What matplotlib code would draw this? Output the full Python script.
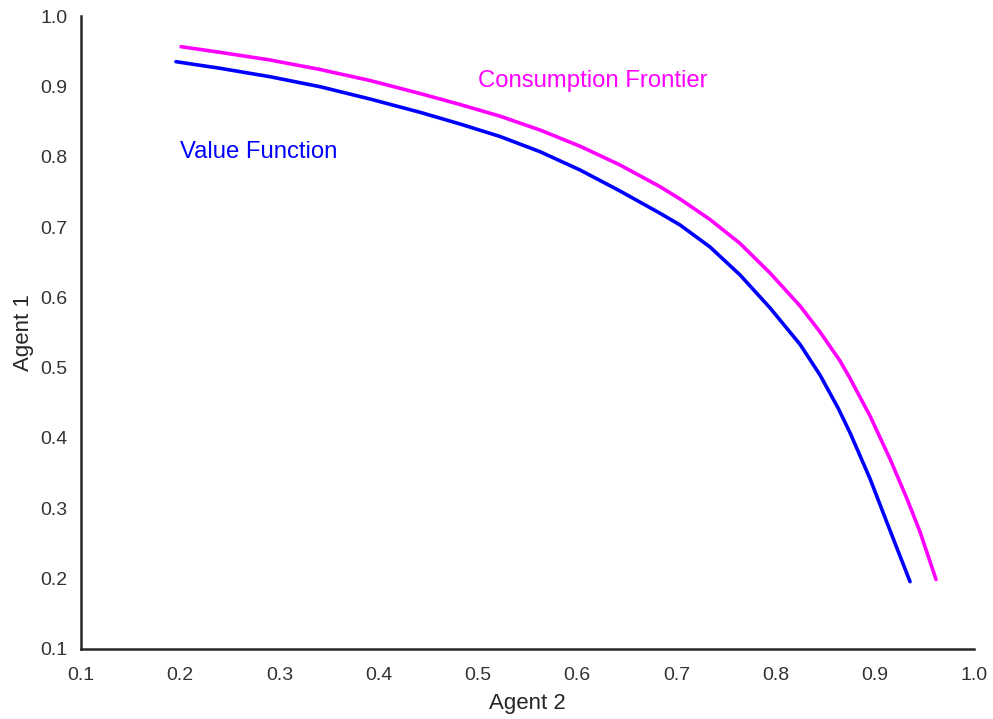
import matplotlib
matplotlib.use("Agg")
import matplotlib.pyplot as plt

# Consumption frontier
frontier_x = [0.2008, 0.2401, 0.2905, 0.3409, 0.3913, 0.4417, 0.4820, 0.5223, 0.5626, 0.6029,
              0.6432, 0.6836, 0.7037, 0.7339, 0.7642, 0.7944, 0.8247, 0.8448, 0.8650, 0.8743,
              0.8952, 0.9153, 0.9322, 0.9456, 0.9617]
frontier_y = [0.9564, 0.9484, 0.9375, 0.9240, 0.9083, 0.8898, 0.8742, 0.8576, 0.8379, 0.8149,
              0.7882, 0.7573, 0.7398, 0.7107, 0.6766, 0.6346, 0.5877, 0.5507, 0.5095, 0.4867,
              0.4313, 0.3702, 0.3144, 0.2664, 0.1988]

# Value function
value_x = [0.1957, 0.2401, 0.2905, 0.3409, 0.3913, 0.4417, 0.4820, 0.5223, 0.5626, 0.6029,
           0.6432, 0.6836, 0.7037, 0.7339, 0.7642, 0.7944, 0.8247, 0.8448, 0.8632, 0.8750,
           0.8952, 0.9120, 0.9355]
value_y = [0.9351, 0.9257, 0.9137, 0.8995, 0.8820, 0.8631, 0.8465, 0.8287, 0.8071, 0.7811,
           0.7512, 0.7195, 0.7029, 0.6716, 0.6318, 0.5850, 0.5330, 0.4895, 0.4420, 0.4075,
           0.3420, 0.2806, 0.1957]

ticks = [0.1, 0.2, 0.3, 0.4, 0.5, 0.6, 0.7, 0.8, 0.9, 1.0]

plt.rcParams['font.family'] = ['Liberation Sans', 'DejaVu Sans']

fig = plt.figure(figsize=(9.93, 7.19), dpi=100)
ax = fig.add_axes([0.0816, 0.0974, 0.8993, 0.8803])

ax.plot(frontier_x, frontier_y, color='#ff00ff', linewidth=2.6, solid_capstyle='round', solid_joinstyle='round')
ax.plot(value_x, value_y, color='#0000ff', linewidth=2.6, solid_capstyle='round', solid_joinstyle='round')

ax.text(0.5, 0.907, 'Consumption Frontier', color='#ff00ff', fontsize=17.2, va='center', ha='left')
ax.text(0.2, 0.806, 'Value Function', color='#0000ff', fontsize=17.2, va='center', ha='left')

ax.set_xlim(0.1, 1.0)
ax.set_ylim(0.1, 1.0)
ax.set_xticks(ticks)
ax.set_yticks(ticks)
ax.set_xticklabels(['%.1f' % t for t in ticks])
ax.set_yticklabels(['%.1f' % t for t in ticks])
ax.tick_params(length=0, labelsize=14, labelcolor='#333333')
ax.tick_params(axis='x', pad=13)
ax.tick_params(axis='y', pad=10)

for s in ['top', 'right']:
    ax.spines[s].set_visible(False)
for s in ['left', 'bottom']:
    ax.spines[s].set_linewidth(1.8)
    ax.spines[s].set_color('#262626')

ax.set_xlabel('Agent 2', fontsize=16, color='#262626', labelpad=6.5)
ax.set_ylabel('Agent 1', fontsize=16, color='#262626', labelpad=4)

fig.savefig('out.png', dpi=100)
